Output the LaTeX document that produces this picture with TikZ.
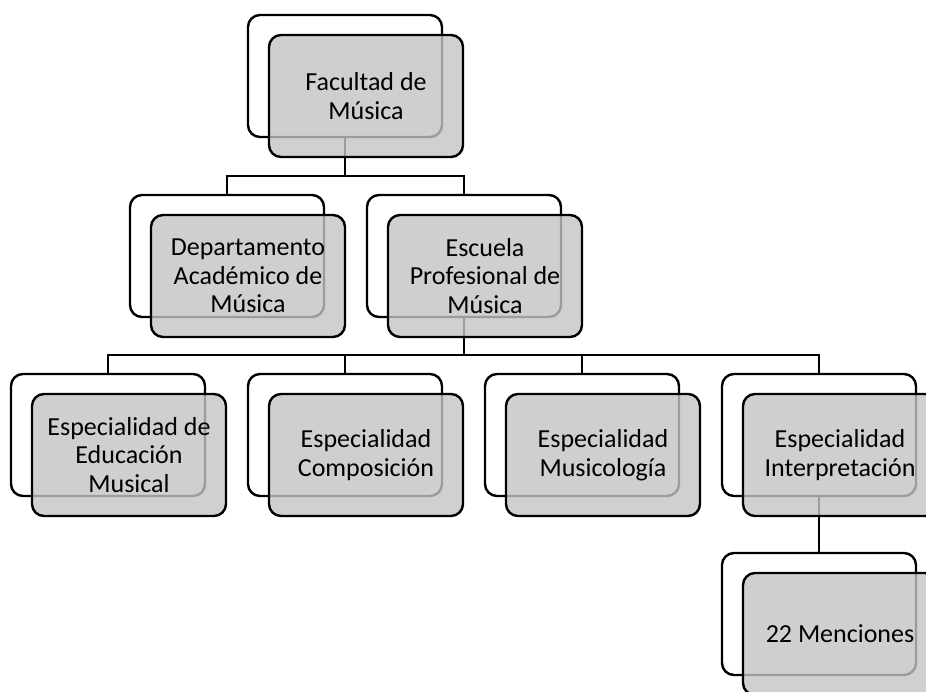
\documentclass[tikz,border=0pt]{standalone}
\usepackage{fontspec}
\setmainfont{Carlito}
\usetikzlibrary{positioning}

\begin{document}
\begin{tikzpicture}[x=1pt,y=-1pt,line width=2.4pt,
    back/.style={draw,fill=white,rounded corners=12pt,minimum width=194pt,minimum height=122pt,inner sep=0pt},
    front/.style={draw,fill=black!23,fill opacity=0.8,text opacity=1,rounded corners=12pt,
        minimum width=194pt,minimum height=122pt,inner sep=0pt,align=center,
        font=\fontsize{26}{28.5}\selectfont}]
        \useasboundingbox (0,0) rectangle (926,691);
        \clip (0,0) rectangle (926,691);
        % back boxes
        \node[back] (facB) at (345,76) {};
        \node[back] (depB) at (227,256) {};
        \node[back] (escB) at (464,256) {};
        \node[back] (eduB) at (108,435) {};
        \node[back] (comB) at (345,435) {};
        \node[back] (musB) at (582,435) {};
        \node[back] (intB) at (819,435) {};
        \node[back] (menB) at (819,614) {};
        \coordinate (bus1) at (0,176);
        \coordinate (bus2) at (0,355);
        % connectors
        \draw (facB.south) -- (facB.south |- bus1);
        \draw (depB.north) |- (escB.north |- bus1) -- (escB.north);
        \draw (escB.south) -- (escB.south |- bus2);
        \draw (eduB.north) |- (intB.north |- bus2) -- (intB.north);
        \draw (comB.north) -- (comB.north |- bus2);
        \draw (musB.north) -- (musB.north |- bus2);
        \draw (intB.south) -- (menB.north);
        % front boxes
        \node[front] (fac) at (facB) [xshift=21pt,yshift=-20pt] {Facultad de\\Música};
        \node[front] (dep) at (depB) [xshift=21pt,yshift=-20pt] {Departamento\\Académico de\\Música};
        \node[front] (esc) at (escB) [xshift=21pt,yshift=-20pt] {Escuela\\Profesional de\\Música};
        \node[front] (edu) at (eduB) [xshift=21pt,yshift=-20pt] {Especialidad de\\Educación\\Musical};
        \node[front] (com) at (comB) [xshift=21pt,yshift=-20pt] {Especialidad\\Composición};
        \node[front] (mus) at (musB) [xshift=21pt,yshift=-20pt] {Especialidad\\Musicología};
        \node[front] (int) at (intB) [xshift=21pt,yshift=-20pt] {Especialidad\\Interpretación};
        \node[front] (men) at (menB) [xshift=21pt,yshift=-20pt] {22 Menciones};
\end{tikzpicture}
\end{document}
